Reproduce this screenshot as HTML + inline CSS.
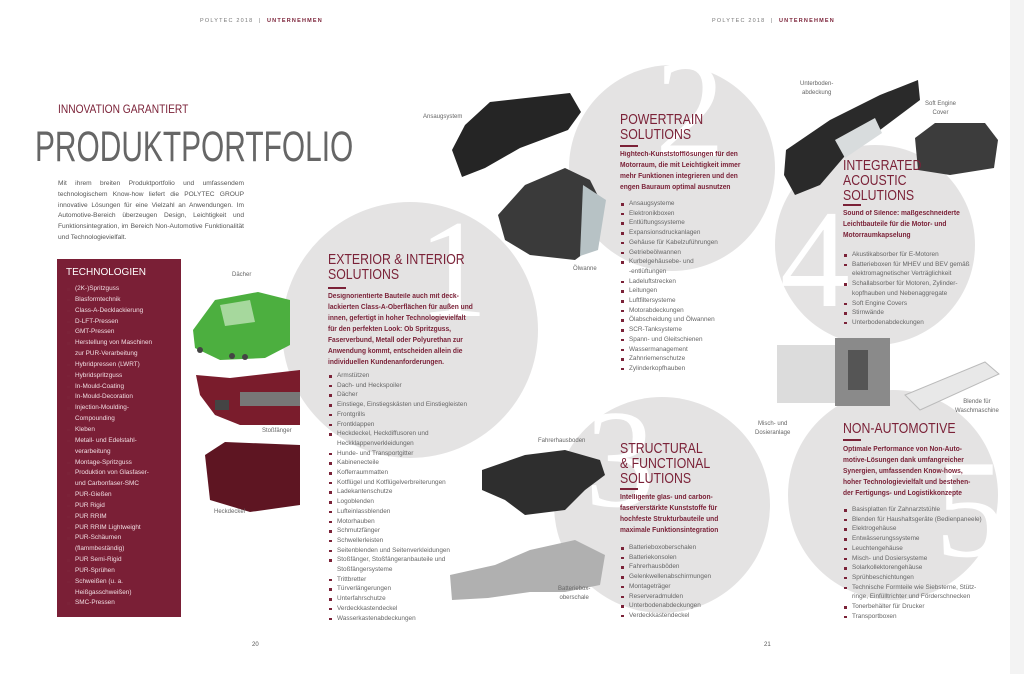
<!DOCTYPE html>
<html><head><meta charset="utf-8"><style>
*{margin:0;padding:0;box-sizing:border-box}
body{width:1024px;height:674px;background:#fff;position:relative;overflow:hidden;font-family:"Liberation Sans",sans-serif;color:#555}
.a{position:absolute}
.c{position:absolute;background:#e4e3e3;border-radius:50%}
.num{position:absolute;color:#fff;font-family:"Liberation Serif",serif;font-size:140px;line-height:1}
.h{position:absolute;color:#7b2238;font-size:15px;line-height:15px;transform-origin:0 0;transform:scaleX(.82);white-space:nowrap}
.bar{position:absolute;width:18px;height:2px;background:#7b2238}
.in{position:absolute;color:#7b2238;font-weight:bold;font-size:7px;line-height:11px;white-space:nowrap;transform-origin:0 0;transform:scaleX(.95)}
ul{position:absolute;list-style:none;font-size:6.4px;line-height:9.7px;color:#666;white-space:nowrap}
ul li{padding-left:9px;position:relative}
ul li:before{content:"";position:absolute;left:1px;top:4px;width:2.5px;height:2.5px;background:#7b2238}
.lb{position:absolute;font-size:6px;color:#666;line-height:9px;text-align:center}
.hd{position:absolute;top:18px;font-size:5.5px;letter-spacing:1.2px;color:#777}
.hd b{color:#7b2238}
</style></head><body>
<div class="a" style="left:1010px;top:0;width:14px;height:674px;background:#f3f3f3"></div>
<div class="hd" style="left:200px">POLYTEC 2018 &nbsp;| &nbsp;<b>UNTERNEHMEN</b></div>
<div class="hd" style="left:712px">POLYTEC 2018 &nbsp;| &nbsp;<b>UNTERNEHMEN</b></div>

<div class="c" style="left:282px;top:202px;width:256px;height:256px"></div>
<div class="c" style="left:569px;top:65px;width:206px;height:206px"></div>
<div class="c" style="left:554px;top:397px;width:216px;height:216px"></div>
<div class="c" style="left:775px;top:145px;width:200px;height:200px"></div>
<div class="c" style="left:788px;top:390px;width:210px;height:210px"></div>
<div class="num" style="left:418px;top:200px">1</div>
<div class="num" style="left:655px;top:40px">2</div>
<div class="num" style="left:585px;top:390px">3</div>
<div class="num" style="left:780px;top:190px">4</div>
<div class="num" style="left:935px;top:440px">5</div>

<div class="a" style="left:58px;top:102px;color:#7b2238;font-size:12px;transform:scaleX(.85);transform-origin:0 0;white-space:nowrap">INNOVATION GARANTIERT</div>
<div class="a" style="left:35px;top:123px;color:#666;font-size:43px;line-height:48px;transform:scaleX(.695);transform-origin:0 0;white-space:nowrap">PRODUKTPORTFOLIO</div>
<div class="a" style="left:58px;top:179px;width:186px;font-size:6.6px;line-height:10.8px;color:#555;text-align:justify">Mit ihrem breiten Produktportfolio und umfassendem technologischem Know-how liefert die POLYTEC GROUP innovative Lösungen für eine Vielzahl an Anwendungen. Im Automotive-Bereich überzeugen Design, Leichtigkeit und Funktionsintegration, im Bereich Non-Automotive Funktionalität und Technologievielfalt.</div>

<div class="a" style="left:57px;top:259px;width:124px;height:358px;background:#7a1f36"></div>
<div class="a" style="left:66px;top:267px;color:#fff;font-size:10px">TECHNOLOGIEN</div>
<ul style="left:66px;top:284px;color:#f0dde2;font-size:6.4px;line-height:10.85px"><li>(2K-)Spritzguss</li><li>Blasformtechnik</li><li>Class-A-Decklackierung</li><li>D-LFT-Pressen</li><li>GMT-Pressen</li><li>Herstellung von Maschinen<br>zur PUR-Verarbeitung</li><li>Hybridpressen (LWRT)</li><li>Hybridspritzguss</li><li>In-Mould-Coating</li><li>In-Mould-Decoration</li><li>Injection-Moulding-<br>Compounding</li><li>Kleben</li><li>Metall- und Edelstahl-<br>verarbeitung</li><li>Montage-Spritzguss</li><li>Produktion von Glasfaser-<br>und Carbonfaser-SMC</li><li>PUR-Gießen</li><li>PUR Rigid</li><li>PUR RRIM</li><li>PUR RRIM Lightweight</li><li>PUR-Schäumen<br>(flammbeständig)</li><li>PUR Semi-Rigid</li><li>PUR-Sprühen</li><li>Schweißen (u. a.<br>Heißgasschweißen)</li><li>SMC-Pressen</li></ul>

<svg class="a" style="left:0;top:0" width="1024" height="674">
<path d="M193 330 L215 300 L258 292 L290 300 L290 345 L265 358 L220 360 L195 348Z" fill="#4caf3f"/>
<path d="M220 305 L250 300 L255 322 L225 326Z" fill="#a6d89d"/>
<circle cx="200" cy="350" r="3" fill="#444"/><circle cx="232" cy="356" r="3" fill="#444"/><circle cx="245" cy="357" r="3" fill="#444"/>
<path d="M196 375 L230 378 L300 370 L300 425 L240 425 L215 415 L200 395Z" fill="#7a1c2c"/>
<rect x="240" y="392" width="60" height="14" fill="#777"/>
<rect x="215" y="400" width="14" height="10" fill="#444"/>
<path d="M205 455 L225 442 L300 445 L300 505 L250 512 L210 500Z" fill="#5e1522"/>
<!-- manifold -->
<path d="M465 125 L490 102 L570 93 L581 112 L568 130 L520 148 L485 168 L462 177 L452 150Z" fill="#252525"/>
<!-- oil pan -->
<path d="M498 215 L525 185 L565 168 L590 180 L600 200 L595 245 L575 260 L530 255 L505 240Z" fill="#3a3a3a"/>
<path d="M583 185 L606 200 L598 250 L580 256Z" fill="#b7c2c5"/>
<!-- fahrerhausboden -->
<path d="M482 470 L525 455 L565 450 L600 460 L605 475 L585 490 L565 510 L525 515 L505 500 L482 490Z" fill="#2e2e2e"/>
<!-- battery box -->
<path d="M450 575 L495 565 L530 550 L575 540 L605 555 L600 585 L565 592 L530 592 L488 598 L452 600Z" fill="#b0b0b0"/>
<!-- unterboden -->
<path d="M786 150 L830 120 L880 95 L918 80 L920 100 L880 130 L850 150 L820 185 L795 195 L784 175Z" fill="#2a2a2a"/>
<path d="M835 140 L875 118 L882 133 L845 158Z" fill="#d8dcdd"/>
<!-- engine cover -->
<path d="M915 138 L935 123 L985 123 L998 140 L994 168 L950 175 L918 170Z" fill="#3c3c3c"/>
<!-- machines -->
<rect x="777" y="345" width="60" height="58" fill="#dcdcdc"/>
<rect x="835" y="338" width="55" height="68" fill="#8a8a8a"/>
<rect x="848" y="350" width="20" height="40" fill="#555"/>
<path d="M905 395 L985 362 L999 374 L920 410Z" fill="#e8e8e8" stroke="#bbb" stroke-width="1"/>
</svg>
<div class="lb" style="left:232px;top:271px">Dächer</div>
<div class="lb" style="left:262px;top:427px">Stoßfänger</div>
<div class="lb" style="left:214px;top:508px">Heckdeckel</div>

<div class="h" style="left:328px;top:252px">EXTERIOR &amp; INTERIOR<br>SOLUTIONS</div>
<div class="bar" style="left:328px;top:287px"></div>
<div class="in" style="left:328px;top:291px">Designorientierte Bauteile auch mit deck-<br>lackierten Class-A-Oberflächen für außen und<br>innen, gefertigt in hoher Technologievielfalt<br>für den perfekten Look: Ob Spritzguss,<br>Faserverbund, Metall oder Polyurethan zur<br>Anwendung kommt, entscheiden allein die<br>individuellen Kundenanforderungen.</div>
<ul style="left:328px;top:371px"><li>Armstützen</li><li>Dach- und Heckspoiler</li><li>Dächer</li><li>Einstiege, Einstiegskästen und Einstiegleisten</li><li>Frontgrills</li><li>Frontklappen</li><li>Heckdeckel, Heckdiffusoren und<br>Heckklappenverkleidungen</li><li>Hunde- und Transportgitter</li><li>Kabinenecteile</li><li>Kofferraummatten</li><li>Kotflügel und Kotflügelverbreiterungen</li><li>Ladekantenschutze</li><li>Logoblenden</li><li>Lufteinlassblenden</li><li>Motorhauben</li><li>Schmutzfänger</li><li>Schwellerleisten</li><li>Seitenblenden und Seitenverkleidungen</li><li>Stoßfänger, Stoßfängeranbauteile und<br>Stoßfängersysteme</li><li>Trittbretter</li><li>Türverlängerungen</li><li>Unterfahrschutze</li><li>Verdeckkastendeckel</li><li>Wasserkastenabdeckungen</li></ul>

<div class="lb" style="left:423px;top:113px">Ansaugsystem</div>
<div class="lb" style="left:573px;top:265px">Ölwanne</div>
<div class="lb" style="left:538px;top:437px">Fahrerhausboden</div>
<div class="lb" style="left:558px;top:585px">Batteriebox-<br>oberschale</div>

<div class="h" style="left:620px;top:112px">POWERTRAIN<br>SOLUTIONS</div>
<div class="bar" style="left:620px;top:145px"></div>
<div class="in" style="left:620px;top:149px">Hightech-Kunststofflösungen für den<br>Motorraum, die mit Leichtigkeit immer<br>mehr Funktionen integrieren und den<br>engen Bauraum optimal ausnutzen</div>
<ul style="left:620px;top:199px"><li>Ansaugsysteme</li><li>Elektronikboxen</li><li>Entlüftungssysteme</li><li>Expansionsdruckanlagen</li><li>Gehäuse für Kabelzuführungen</li><li>Getriebeölwannen</li><li>Kurbelgehäusebe- und<br>-entlüftungen</li><li>Ladeluftstrecken</li><li>Leitungen</li><li>Luftfiltersysteme</li><li>Motorabdeckungen</li><li>Ölabscheidung und Ölwannen</li><li>SCR-Tanksysteme</li><li>Spann- und Gleitschienen</li><li>Wassermanagement</li><li>Zahnriemenschutze</li><li>Zylinderkopfhauben</li></ul>

<div class="h" style="left:620px;top:441px">STRUCTURAL<br>&amp; FUNCTIONAL<br>SOLUTIONS</div>
<div class="bar" style="left:620px;top:488px"></div>
<div class="in" style="left:620px;top:492px">Intelligente glas- und carbon-<br>faserverstärkte Kunststoffe für<br>hochfeste Strukturbauteile und<br>maximale Funktionsintegration</div>
<ul style="left:620px;top:543px"><li>Batterieboxoberschalen</li><li>Batteriekonsolen</li><li>Fahrerhausböden</li><li>Gelenkwellenabschirmungen</li><li>Montageträger</li><li>Reserveradmulden</li><li>Unterbodenabdeckungen</li><li>Verdeckkastendeckel</li></ul>

<div class="lb" style="left:800px;top:80px">Unterboden-<br>abdeckung</div>
<div class="lb" style="left:925px;top:100px">Soft Engine<br>Cover</div>
<div class="lb" style="left:755px;top:420px">Misch- und<br>Dosieranlage</div>
<div class="lb" style="left:955px;top:398px">Blende für<br>Waschmaschine</div>

<div class="h" style="left:843px;top:158px">INTEGRATED<br>ACOUSTIC<br>SOLUTIONS</div>
<div class="bar" style="left:843px;top:204px"></div>
<div class="in" style="left:843px;top:208px">Sound of Silence: maßgeschneiderte<br>Leichtbauteile für die Motor- und<br>Motorraumkapselung</div>
<ul style="left:843px;top:250px"><li>Akustikabsorber für E-Motoren</li><li>Batterieboxen für MHEV und BEV gemäß<br>elektromagnetischer Verträglichkeit</li><li>Schallabsorber für Motoren, Zylinder-<br>kopfhauben und Nebenaggregate</li><li>Soft Engine Covers</li><li>Stirnwände</li><li>Unterbodenabdeckungen</li></ul>

<div class="h" style="left:843px;top:421px">NON-AUTOMOTIVE</div>
<div class="bar" style="left:843px;top:439px"></div>
<div class="in" style="left:843px;top:444px">Optimale Performance von Non-Auto-<br>motive-Lösungen dank umfangreicher<br>Synergien, umfassenden Know-hows,<br>hoher Technologievielfalt und bestehen-<br>der Fertigungs- und Logistikkonzepte</div>
<ul style="left:843px;top:505px"><li>Basisplatten für Zahnarztstühle</li><li>Blenden für Haushaltsgeräte (Bedienpaneele)</li><li>Elektrogehäuse</li><li>Entwässerungssysteme</li><li>Leuchtengehäuse</li><li>Misch- und Dosiersysteme</li><li>Solarkollektorengehäuse</li><li>Sprühbeschichtungen</li><li>Technische Formteile wie Siebsterne, Stütz-<br>ringe, Einfülltrichter und Förderschnecken</li><li>Tonerbehälter für Drucker</li><li>Transportboxen</li></ul>

<div class="a" style="left:252px;top:642px;font-size:6px;color:#555">20</div>
<div class="a" style="left:764px;top:642px;font-size:6px;color:#555">21</div>
</body></html>
